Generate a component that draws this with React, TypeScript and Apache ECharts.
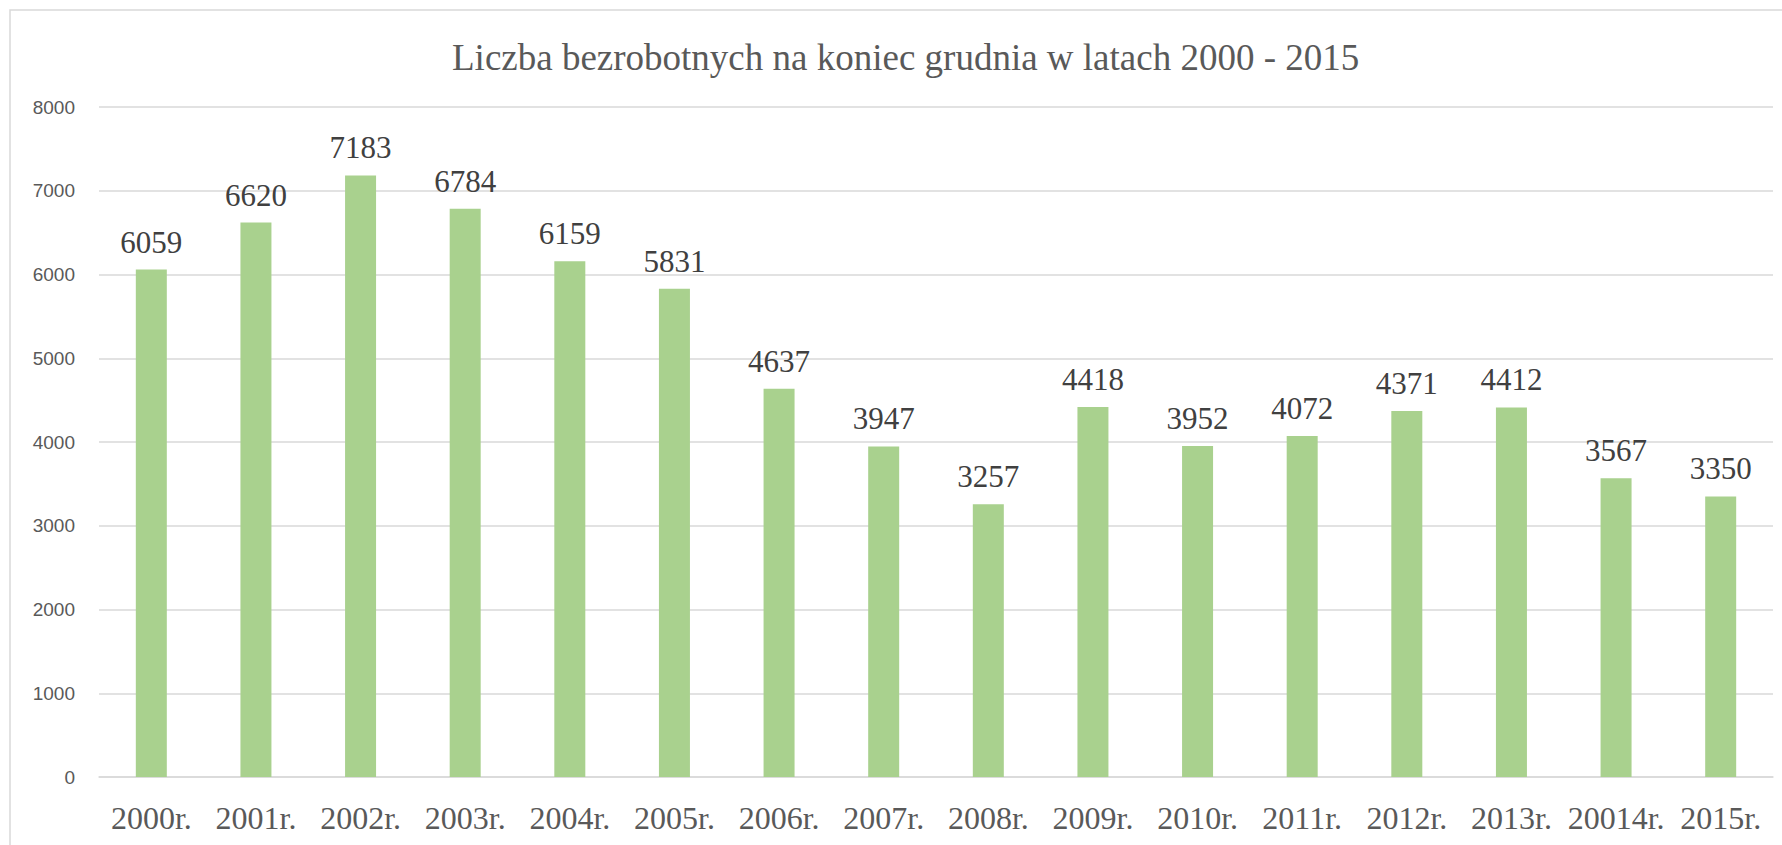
import React, { useEffect, useRef } from "react";
import * as echarts from "echarts";

const TITLE = "Liczba bezrobotnych na koniec grudnia w latach 2000 - 2015";
const categories = [
  "2000r.", "2001r.", "2002r.", "2003r.", "2004r.", "2005r.", "2006r.", "2007r.",
  "2008r.", "2009r.", "2010r.", "2011r.", "2012r.", "2013r.", "20014r.", "2015r.",
];
const values = [6059, 6620, 7183, 6784, 6159, 5831, 4637, 3947, 3257, 4418, 3952, 4072, 4371, 4412, 3567, 3350];
const yMin = 0;
const yMax = 8000;
const yInterval = 1000;

export default function App() {
  const ref = useRef<HTMLDivElement>(null);
  useEffect(() => {
    if (!ref.current) return;
    const chart = echarts.init(ref.current, undefined, { renderer: "svg" });
    chart.setOption({
      animation: false,
      backgroundColor: "#ffffff",
      title: {
        text: TITLE,
        left: 447,
        top: 34,
        textStyle: {
          fontFamily: "Liberation Serif",
          fontSize: 37,
          fontWeight: "normal",
          color: "#595959",
        },
      },
      graphic: [
        {
          type: "rect",
          shape: { x: 10, y: 10, width: 2000, height: 2000 },
          style: { fill: "none", stroke: "#d9d9d9", lineWidth: 1.5 },
          silent: true,
        },
      ],
      grid: { left: 99, right: 9, top: 107, bottom: 68, containLabel: false },
      xAxis: {
        type: "category",
        data: categories,
        axisTick: { show: false },
        axisLine: { lineStyle: { color: "#d9d9d9", width: 1.5 } },
        axisLabel: {
          interval: 0,
          margin: 25,
          fontFamily: "Liberation Serif",
          fontSize: 32,
          color: "#595959",
        },
      },
      yAxis: {
        type: "value",
        min: yMin,
        max: yMax,
        interval: yInterval,
        axisLine: { show: false },
        axisTick: { show: false },
        splitLine: { lineStyle: { color: "#d9d9d9", width: 1.5 } },
        axisLabel: {
          margin: 24,
          fontFamily: "Liberation Sans",
          fontSize: 19,
          color: "#595959",
          formatter: (v: number) => String(v),
        },
      },
      series: [
        {
          type: "bar",
          data: values,
          barWidth: 31,
          itemStyle: { color: "#a9d18e" },
          label: {
            show: true,
            position: "top",
            distance: 12,
            fontFamily: "Liberation Serif",
            fontSize: 31,
            color: "#404040",
          },
        },
      ],
    });
    return () => chart.dispose();
  }, []);
  return (
    <div
      ref={ref}
      style={{ position: "fixed", left: 0, top: 0, width: 1782, height: 845 }}
    />
  );
}
